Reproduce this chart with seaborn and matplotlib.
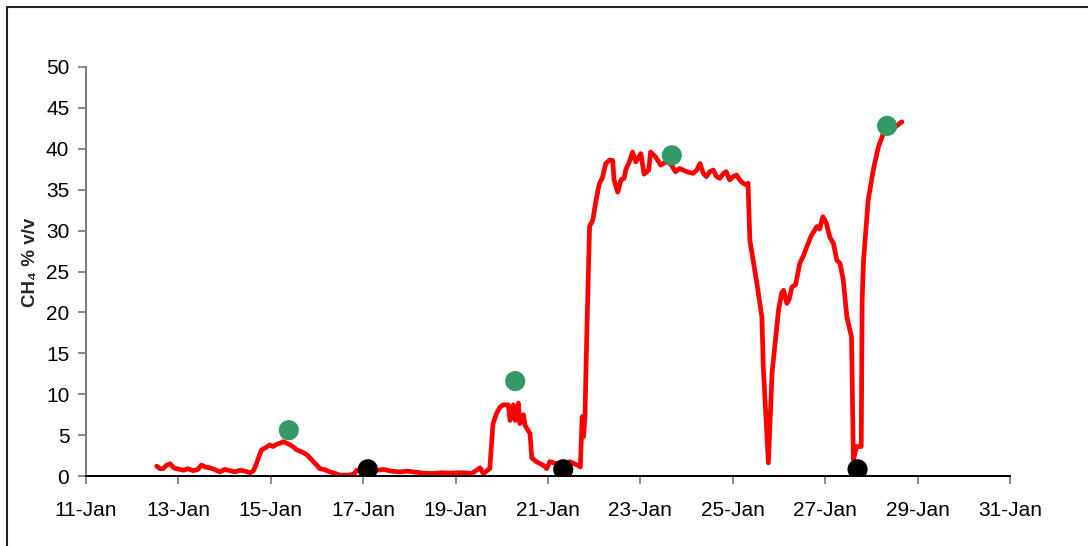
import numpy as np
import pandas as pd
import matplotlib
matplotlib.use("Agg")
import matplotlib.pyplot as plt
import matplotlib.dates as mdates
from matplotlib.lines import Line2D
import seaborn as sns

# Methane concentration log (day of January, % v/v)
day = [
    12.53, 12.60, 12.67, 12.74, 12.82, 12.90, 12.96, 13.04, 13.11, 13.20,
    13.32, 13.42, 13.50, 13.58, 13.68, 13.78, 13.90, 14.00, 14.12, 14.22,
    14.33, 14.44, 14.55, 14.62, 14.69, 14.75, 14.80, 14.90, 14.98, 15.05,
    15.13, 15.20, 15.27, 15.35, 15.42, 15.50, 15.56, 15.65, 15.72, 15.78,
    15.85, 15.92, 16.00, 16.06, 16.15, 16.28, 16.40, 16.50, 16.65, 16.79,
    16.86, 17.00, 17.15, 17.30, 17.44, 17.60, 17.80, 17.95, 18.16, 18.30,
    18.52, 18.70, 18.88, 19.05, 19.17, 19.35, 19.53, 19.60, 19.74, 19.81,
    19.89, 19.96, 20.03, 20.14, 20.18, 20.25, 20.29, 20.36, 20.39, 20.47,
    20.50, 20.61, 20.65, 20.75, 20.90, 20.97, 21.04, 21.18, 21.33, 21.47,
    21.65, 21.70, 21.74, 21.77, 21.80, 21.84, 21.90, 21.97, 22.04, 22.11,
    22.18, 22.25, 22.33, 22.40, 22.43, 22.51, 22.58, 22.65, 22.68, 22.76,
    22.83, 22.90, 23.01, 23.08, 23.18, 23.22, 23.33, 23.44, 23.55, 23.65,
    23.76, 23.85, 24.00, 24.14, 24.22, 24.29, 24.36, 24.43, 24.50, 24.58,
    24.65, 24.72, 24.80, 24.86, 24.93, 25.01, 25.08, 25.15, 25.22, 25.29,
    25.33, 25.37, 25.52, 25.63, 25.66, 25.77, 25.85, 25.99, 26.06, 26.10,
    26.17, 26.22, 26.28, 26.36, 26.45, 26.52, 26.60, 26.70, 26.82, 26.88,
    26.95, 27.02, 27.10, 27.18, 27.25, 27.32, 27.39, 27.47, 27.57, 27.61,
    27.68, 27.78, 27.80, 27.83, 27.93, 28.04, 28.15, 28.26, 28.35, 28.50,
    28.66,
]
ch4 = [
    1.2, 0.9, 0.9, 1.3, 1.5, 1.0, 0.9, 0.8, 0.7, 0.9,
    0.65, 0.8, 1.35, 1.1, 1.0, 0.8, 0.5, 0.8, 0.65, 0.5,
    0.7, 0.6, 0.4, 0.6, 1.5, 2.5, 3.2, 3.5, 3.8, 3.6,
    3.9, 4.0, 4.2, 4.0, 3.8, 3.5, 3.2, 3.0, 2.8, 2.6,
    2.2, 1.75, 1.3, 0.9, 0.8, 0.5, 0.3, 0.1, 0.1, 0.2,
    0.7, 0.6, 0.9, 0.7, 0.8, 0.6, 0.5, 0.6, 0.45, 0.35,
    0.3, 0.4, 0.35, 0.4, 0.4, 0.3, 1.0, 0.3, 0.9, 6.4,
    7.7, 8.4, 8.7, 8.7, 6.8, 8.7, 6.8, 8.9, 6.4, 7.5,
    6.2, 5.2, 2.2, 1.75, 1.3, 0.9, 1.75, 1.5, 1.1, 1.75,
    1.3, 1.1, 7.25, 4.8, 7.2, 17.4, 30.5, 31.3, 33.7, 35.7,
    36.5, 38.2, 38.6, 38.6, 36.2, 34.7, 36.2, 36.4, 37.4, 38.4,
    39.6, 38.4, 39.4, 36.9, 37.4, 39.6, 39.0, 38.0, 38.4, 38.2,
    37.2, 37.6, 37.2, 37.0, 37.4, 38.2, 37.0, 36.6, 37.2, 37.4,
    36.6, 36.4, 37.0, 37.2, 36.2, 36.6, 36.8, 36.2, 35.8, 35.6,
    35.8, 28.8, 23.6, 19.4, 13.3, 1.6, 12.6, 20.3, 22.4, 22.7,
    21.1, 21.6, 23.1, 23.4, 26.0, 26.8, 28.0, 29.4, 30.5, 30.2,
    31.7, 31.0, 29.2, 28.4, 26.4, 26.0, 24.0, 19.4, 17.0, 2.0,
    3.6, 3.6, 21.5, 26.4, 33.7, 37.4, 40.2, 41.9, 42.3, 42.6,
    43.3,
]

# Sampling points
high_day = [15.39, 20.29, 23.68, 28.34]
high_val = [5.6, 11.6, 39.2, 42.8]
low_day = [17.10, 21.33, 27.70]
low_val = [0.82, 0.82, 0.82]

tick_days = [11, 13, 15, 17, 19, 21, 23, 25, 27, 29, 31]
y_ticks = [0, 5, 10, 15, 20, 25, 30, 35, 40, 45, 50]

base = pd.Timestamp("2011-01-01")


def to_dt(d):
    return base + pd.to_timedelta(np.asarray(d, dtype=float) - 1, unit="D")


sns.set_theme(style="ticks")
plt.rcParams["font.family"] = ["Liberation Sans", "DejaVu Sans"]

W, H = 1088, 546
fig = plt.figure(figsize=(W / 100, H / 100), dpi=100)
fig.patch.set_facecolor("white")
ax = fig.add_axes([86 / W, 1 - 476 / H, (1010 - 86) / W, (476 - 67) / H])
ax.set_facecolor("white")

sns.lineplot(x=to_dt(day), y=ch4, ax=ax, color="#ff0000", linewidth=3.4,
             sort=False, estimator=None, zorder=2)
sns.scatterplot(x=to_dt(high_day), y=high_val, ax=ax, color="#339966",
                s=210, edgecolor="none", linewidth=0, zorder=3)
sns.scatterplot(x=to_dt(low_day), y=low_val, ax=ax, color="black",
                s=210, edgecolor="none", linewidth=0, zorder=3)

ax.set_xlim(to_dt(11), to_dt(31))
ax.set_ylim(0, 50)
ax.set_xticks(to_dt(tick_days))
ax.xaxis.set_major_formatter(mdates.DateFormatter("%d-%b"))
ax.set_yticks(y_ticks)
ax.set_yticklabels([str(v) for v in y_ticks])

ax.tick_params(axis="both", labelsize=15, length=6, width=1.3,
               color="#808080", labelcolor="black")
ax.tick_params(axis="x", pad=12)
ax.tick_params(axis="y", pad=6)

for side in ("top", "right"):
    ax.spines[side].set_visible(False)
ax.spines["left"].set_color("#808080")
ax.spines["left"].set_linewidth(1.5)
ax.spines["bottom"].set_color("black")
ax.spines["bottom"].set_linewidth(1.4)

ax.set_xlabel("")
ax.set_ylabel("CH₄ % v/v", fontsize=13.5, fontweight="bold")
ax.yaxis.set_label_coords(-0.051, 0.523)

# Outer frame along the top and left edges
fig.add_artist(Line2D([7 / W, 1], [1 - 7 / H, 1 - 7 / H],
                      transform=fig.transFigure, color="#222222", lw=1.5))
fig.add_artist(Line2D([7 / W, 7 / W], [0, 1 - 7 / H],
                      transform=fig.transFigure, color="#222222", lw=1.5))

fig.savefig("out.png", dpi=100, facecolor="white")
